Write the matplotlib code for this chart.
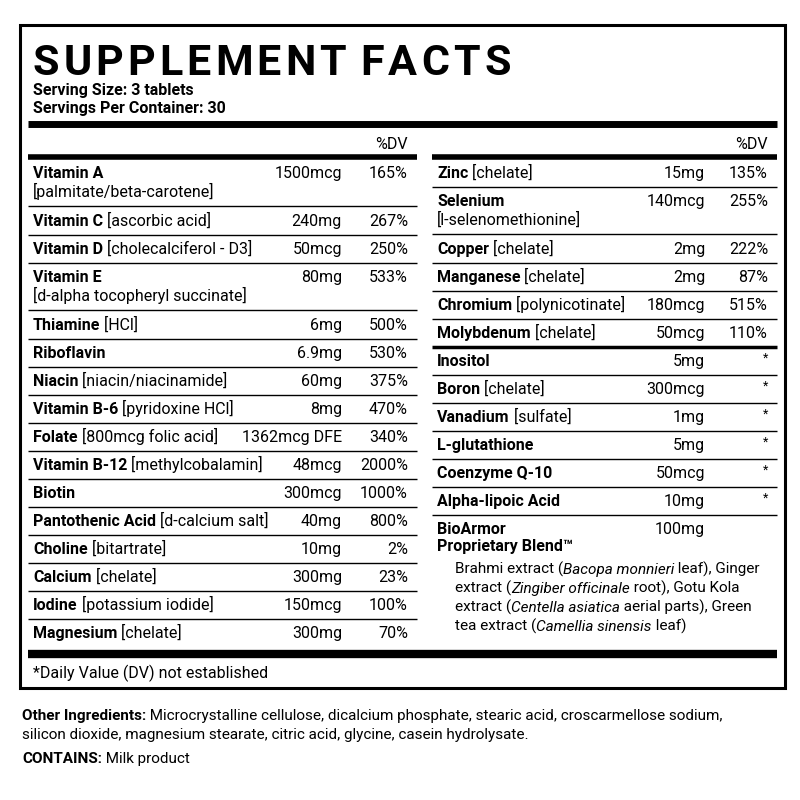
import matplotlib
matplotlib.use("Agg")
import matplotlib.pyplot as plt

plt.rcParams['font.family'] = ['Roboto', 'DejaVu Sans']

title = "SUPPLEMENT FACTS"
serving_lines = ["Serving Size: 3 tablets", "Servings Per Container: 30"]

left_names = ["Vitamin A", "Vitamin C", "Vitamin D", "Vitamin E", "Thiamine", "Riboflavin", "Niacin",
              "Vitamin B-6", "Folate", "Vitamin B-12", "Biotin", "Pantothenic Acid", "Choline",
              "Calcium", "Iodine", "Magnesium"]
left_forms = ["", "[ascorbic acid]", "[cholecalciferol - D3]", "", "[HCl]", "", "[niacin/niacinamide]",
              "[pyridoxine HCl]", "[800mcg folic acid]", "[methylcobalamin]", "", "[d-calcium salt]",
              "[bitartrate]", "[chelate]", "[potassium iodide]", "[chelate]"]
left_second = ["[palmitate/beta-carotene]", "", "", "[d-alpha tocopheryl succinate]"] + [""] * 12
left_amounts = ["1500mcg", "240mg", "50mcg", "80mg", "6mg", "6.9mg", "60mg", "8mg", "1362mcg DFE",
                "48mcg", "300mcg", "40mg", "10mg", "300mg", "150mcg", "300mg"]
left_dv = ["165%", "267%", "250%", "533%", "500%", "530%", "375%", "470%", "340%", "2000%", "1000%",
           "800%", "2%", "23%", "100%", "70%"]

right_names = ["Zinc", "Selenium", "Copper", "Manganese", "Chromium", "Molybdenum", "Inositol", "Boron",
               "Vanadium", "L-glutathione", "Coenzyme Q-10", "Alpha-lipoic Acid"]
right_forms = ["[chelate]", "", "[chelate]", "[chelate]", "[polynicotinate]", "[chelate]", "", "[chelate]",
               "[sulfate]", "", "", ""]
right_second = ["", "[l-selenomethionine]"] + [""] * 10
right_amounts = ["15mg", "140mcg", "2mg", "2mg", "180mcg", "50mcg", "5mg", "300mcg", "1mg", "5mg",
                 "50mcg", "10mg"]
right_dv = ["135%", "255%", "222%", "87%", "515%", "110%", "*", "*", "*", "*", "*", "*"]

blend_name = ["BioArmor", "Proprietary Blend™"]
blend_amount = "100mg"
blend_desc = [
    [("Brahmi extract (", "normal"), ("Bacopa monnieri", "italic"), (" leaf), Ginger", "normal")],
    [("extract (", "normal"), ("Zingiber officinale", "italic"), (" root), Gotu Kola", "normal")],
    [("extract (", "normal"), ("Centella asiatica", "italic"), (" aerial parts), Green", "normal")],
    [("tea extract (", "normal"), ("Camellia sinensis", "italic"), (" leaf)", "normal")],
]
footnote = "*Daily Value (DV) not established"
other_label = "Other Ingredients:"
other_text = ["Microcrystalline cellulose, dicalcium phosphate, stearic acid, croscarmellose sodium,",
              "silicon dioxide, magnesium stearate, citric acid, glycine, casein hydrolysate."]
contains_label = "CONTAINS:"
contains_text = "Milk product"

fig = plt.figure(figsize=(8, 8), dpi=100)
ax = fig.add_axes([0, 0, 1, 1])
ax.set_xlim(0, 800); ax.set_ylim(800, 0); ax.axis('off')
r = fig.canvas.get_renderer()
FS = 11.5

def width(t):
    return t.get_window_extent(renderer=r).width

def runs(x, y, parts, fs=FS):
    for s, st in parts:
        kw = dict(fontsize=fs, va='baseline', ha='left', color='black')
        if st == 'bold': kw['fontweight'] = 'bold'
        if st == 'italic': kw['fontstyle'] = 'italic'
        t = ax.text(x, y, s, **kw)
        x += width(t)
    return x

def hline(y, x0, x1, lw):
    ax.plot([x0, x1], [y, y], color='black', lw=lw, solid_capstyle='butt')

ax.add_patch(plt.Rectangle((20, 25), 765, 663, fill=False, lw=2.2, ec='black'))
x = 33
for ch in title:
    t = ax.text(x, 75, ch, fontsize=31, fontweight='bold', va='baseline')
    x += width(t) + (4 if ch != ' ' else 0)
ax.text(33, 95, serving_lines[0], fontsize=FS, fontweight='bold', va='baseline')
ax.text(33, 113, serving_lines[1], fontsize=FS, fontweight='bold', va='baseline')
hline(124, 28, 777, 5)

def column(x0, x1, xa, xd, ys, nm, fm_, sec, am, dv, thick_after=None):
    ax.text(xd, 149, "%DV", fontsize=FS, ha='right', va='baseline')
    hline(157, x0, x1, 4)
    for i, y in enumerate(ys):
        runs(x0 + 5, y, [(nm[i], 'bold'), ((" " + fm_[i]) if fm_[i] else "", 'normal')])
        if sec[i]:
            ax.text(x0 + 5, y + 19, sec[i], fontsize=FS, va='baseline')
        ax.text(xa, y, am[i], fontsize=FS, ha='right', va='baseline')
        ax.text(xd, y if dv[i] != '*' else y - 4, dv[i], fontsize=FS if dv[i] != '*' else 9,
                ha='right', va='baseline')
        ly = y + (19 if sec[i] else 0) + 9
        if i < len(ys) - 1:
            hline(ly, x0, x1, 2.5 if thick_after == i else 1)

ly_ = [178, 226, 254, 282, 330, 358, 386, 414, 442, 470, 498, 526, 554, 582, 610, 638]
column(28, 417, 342, 408, ly_, left_names, left_forms, left_second, left_amounts, left_dv)
ry_ = [178, 206, 254, 282, 310, 338, 366, 394, 422, 450, 478, 506]
column(432, 777, 705, 768, ry_, right_names, right_forms, right_second, right_amounts, right_dv,
       thick_after=5)
hline(515, 432, 777, 1)
ax.text(437, 534, blend_name[0], fontsize=FS, fontweight='bold', va='baseline')
ax.text(437, 551, blend_name[1], fontsize=FS, fontweight='bold', va='baseline')
ax.text(705, 534, blend_amount, fontsize=FS, ha='right', va='baseline')
for k, parts in enumerate(blend_desc):
    runs(455, 574 + 19 * k, parts, fs=11)

hline(654, 28, 777, 6)
ax.text(33, 678, footnote, fontsize=FS, va='baseline')

runs(22, 720, [(other_label, 'bold'), (" " + other_text[0], 'normal')], fs=11)
ax.text(22, 739, other_text[1], fontsize=11, va='baseline')
runs(22, 763, [(contains_label, 'bold'), (" " + contains_text, 'normal')], fs=11)

fig.savefig("out.png", dpi=100, facecolor='white')
